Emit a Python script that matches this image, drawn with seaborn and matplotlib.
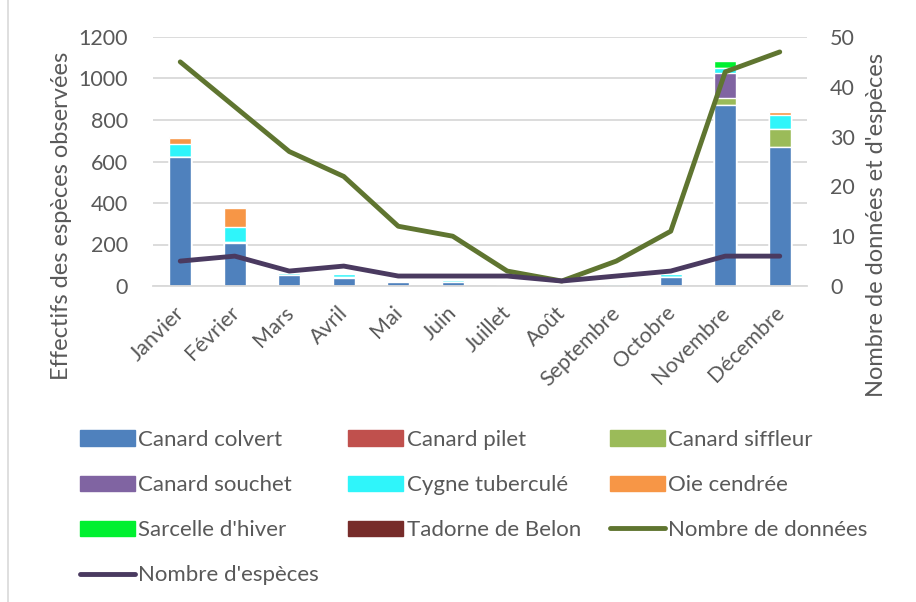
import matplotlib
matplotlib.use("Agg")
import matplotlib.pyplot as plt
import matplotlib.transforms as mtransforms
import seaborn as sns
import numpy as np
import pandas as pd
from matplotlib.patches import Patch
from matplotlib.lines import Line2D

months = ['Janvier', 'Février', 'Mars', 'Avril', 'Mai', 'Juin', 'Juillet',
          'Août', 'Septembre', 'Octobre', 'Novembre', 'Décembre']

# effectifs par espèce et par mois
canard_colvert = [620, 206, 51, 38, 18, 20, 0, 0, 0, 45, 870, 670]
canard_pilet = [0, 0, 0, 0, 0, 0, 0, 0, 0, 0, 0, 0]
canard_siffleur = [0, 4, 0, 3, 0, 0, 0, 0, 0, 0, 35, 85]
canard_souchet = [0, 0, 0, 0, 0, 0, 0, 0, 0, 0, 120, 2]
cygne_tubercule = [64, 74, 13, 15, 6, 10, 0, 0, 8, 13, 25, 66]
oie_cendree = [28, 91, 0, 0, 0, 0, 0, 0, 0, 0, 0, 14]
sarcelle_hiver = [0, 0, 0, 0, 0, 0, 0, 0, 0, 6, 32, 8]
tadorne_belon = [6, 0, 2, 0, 0, 0, 0, 0, 0, 0, 0, 0]

nb_donnees = [45, 36, 27, 22, 12, 10, 3, 1, 5, 11, 43, 47]
nb_especes = [5, 6, 3, 4, 2, 2, 2, 1, 2, 3, 6, 6]

species = ['Canard colvert', 'Canard pilet', 'Canard siffleur', 'Canard souchet',
           'Cygne tuberculé', 'Oie cendrée', "Sarcelle d'hiver", 'Tadorne de Belon']
colors = ['#4F81BD', '#C0504D', '#9BBB59', '#8064A2',
          '#2FF5FA', '#F79646', '#00F030', '#772C2A']

df = pd.DataFrame([canard_colvert, canard_pilet, canard_siffleur, canard_souchet,
                   cygne_tubercule, oie_cendree, sarcelle_hiver, tadorne_belon],
                  index=species, columns=months).T

sns.set_style('white')
plt.rcParams['font.family'] = ['Lato', 'DejaVu Sans']
txt = '#595959'
fs = 15.5

fig = plt.figure(figsize=(9.16, 6.02), dpi=100)
ax = fig.add_axes([153 / 916, 1 - 286 / 602, 654 / 916, 249 / 602])

# barres empilées : on dessine les cumuls du plus haut au plus bas
cum = df.cumsum(axis=1)
for sp, col in reversed(list(zip(species, colors))):
    sns.barplot(x=months, y=cum[sp].values, color=col, width=0.4,
                saturation=1, ax=ax, order=months)

ax.set_ylim(0, 1200)
ax.set_xlim(-0.5, 11.5)
ax.set_yticks(range(0, 1201, 200))
ax.grid(axis='y', color='#D9D9D9', linewidth=1.3)
ax.set_axisbelow(True)
for s in ['top', 'right', 'left']:
    ax.spines[s].set_visible(False)
ax.spines['bottom'].set_color('#D9D9D9')
ax.spines['bottom'].set_linewidth(1.3)
ax.tick_params(length=0, labelsize=fs, colors=txt)
ax.tick_params(axis='y', pad=18)
ax.tick_params(axis='x', pad=12)
ax.set_xticks(range(len(months)))
ax.set_xticklabels(months, rotation=45, ha='right', rotation_mode='anchor')
shift = mtransforms.ScaledTranslation(-6 / 100, 0, fig.dpi_scale_trans)
for lab in ax.get_xticklabels():
    lab.set_transform(lab.get_transform() + shift)
ax.set_ylabel('Effectifs des espèces observées', fontsize=17, color=txt)
ax.yaxis.set_label_coords(-0.124, 0.283)
ax.set_xlabel('')

ax2 = ax.twinx()
sns.lineplot(x=np.arange(len(months)), y=nb_donnees, color='#5F7530', linewidth=3.5,
             ax=ax2, solid_capstyle='round')
sns.lineplot(x=np.arange(len(months)), y=nb_especes, color='#4A3A60', linewidth=3.5,
             ax=ax2, solid_capstyle='round')
ax2.set_ylim(0, 50)
ax2.set_yticks(range(0, 51, 10))
for s in ax2.spines.values():
    s.set_visible(False)
ax2.tick_params(length=0, labelsize=fs, colors=txt, pad=16.5)
ax2.set_ylabel('Nombre de données et d\'espèces', fontsize=17, color=txt)
ax2.yaxis.set_label_coords(1.090, 0.245)
ax2.grid(False)

handles = [Patch(color=c, label=s) for s, c in zip(species, colors)]
handles.append(Line2D([], [], color='#5F7530', linewidth=3.5, solid_capstyle='round',
                      label='Nombre de données'))
handles.append(Line2D([], [], color='#4A3A60', linewidth=3.5, solid_capstyle='round',
                      label="Nombre d'espèces"))
order = [0, 3, 6, 9, 1, 4, 7, 2, 5, 8]
fig.legend([handles[i] for i in order], [handles[i].get_label() for i in order],
           loc='upper left', bbox_to_anchor=(60 / 916, 1 - 410 / 602), ncol=3,
           frameon=False, fontsize=16, handlelength=2.48, handleheight=0.7,
           handletextpad=0.14, columnspacing=1.32, labelspacing=1.13, labelcolor=txt)

fig.add_artist(Line2D([8 / 916, 8 / 916], [0, 1], color='#D9D9D9', linewidth=1.2,
                      transform=fig.transFigure))

fig.savefig('out.png', dpi=100)
plt.close()
